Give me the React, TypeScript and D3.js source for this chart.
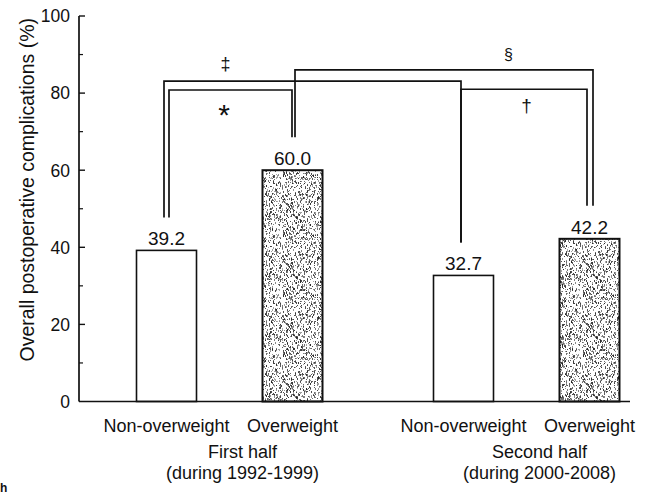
import React, { useMemo } from "react";
import * as d3 from "d3";

// ---- data ----
const groups = ["First half", "Second half"];
const groupPeriods = ["(during 1992-1999)", "(during 2000-2008)"];
const categories = ["Non-overweight", "Overweight"];
const firstHalfValues = [39.2, 60.0];
const secondHalfValues = [32.7, 42.2];
const yTickValues = [0, 20, 40, 60, 80, 100];
const yMinorTicks = [10, 30, 50, 70, 90];

// brackets: [group, category] endpoints, level (in %)
const bracketSymbols = ["*", "\u2021", "\u2020", "\u00a7"];
const bracketFrom = [[0, 0], [0, 0], [1, 0], [0, 1]];
const bracketTo = [[0, 1], [1, 0], [1, 1], [1, 1]];
const bracketLevels = [80.8, 83.1, 81.0, 86.0];
// symbol anchor: pair of bars whose midpoint the symbol sits over, and its level
const symbolAnchorFrom = [[0, 0], [0, 0], [1, 0], [1, 0]];
const symbolAnchorTo = [[0, 1], [0, 1], [1, 1], [1, 1]];
const symbolLevels = [71.7, 86.0, 75.1, 88.6];
const symbolDx = [-5.5, -4, 0, -18];
const symbolSizes = [30, 18, 19, 16];

const W = 653;
const H = 494;
const AX = 79; // y axis x
const AXR = 630; // x axis end
const Y0 = 401.5;
const Y100 = 16;

function lcg(seed: number) {
  let s = seed >>> 0;
  return () => {
    s = (s * 1664525 + 1013904223) >>> 0;
    return s / 4294967296;
  };
}

export default function App() {
  const y = d3.scaleLinear().domain([0, 100]).range([Y0, Y100]);
  const x0 = d3.scalePoint<string>().domain(groups).range([AX + 150.5, AX + 447.5]);
  const x1 = d3.scalePoint<string>().domain(categories).range([-63, 63]);
  const barW = 60;
  const values = [firstHalfValues, secondHalfValues];
  const cx = (g: number, c: number) => (x0(groups[g]) as number) + (x1(categories[c]) as number);
  const legBottom = (g: number, c: number) => y(values[g][c]) - 33;

  const dots = useMemo(() => {
    const r = lcg(987654);
    const arr: { x: number; y: number; w: number; h: number; o: number }[] = [];
    for (let i = 0; i < 950; i++) {
      arr.push({
        x: Math.floor(r() * 60),
        y: Math.floor(r() * 60),
        w: 1,
        h: r() < 0.45 ? 2 : 1,
        o: 0.35 + r() * 0.55,
      });
    }
    return arr;
  }, []);

  const font = "'Liberation Sans', Arial, Helvetica, sans-serif";

  return (
    <svg
      width={W}
      height={H}
      style={{ position: "absolute", left: 0, top: 0, background: "#fff" }}
      fontFamily={font}
    >
      <defs>
        <pattern id="stipple" width={60} height={60} patternUnits="userSpaceOnUse">
          <rect width={60} height={60} fill="#fff" />
          {dots.map((d, i) => (
            <rect key={i} x={d.x} y={d.y} width={d.w} height={d.h} fill="#222" opacity={d.o} />
          ))}
        </pattern>
      </defs>

      {/* bars */}
      {values.map((vals, g) =>
        vals.map((v, c) => {
          const xc = cx(g, c);
          return (
            <g key={`b${g}${c}`}>
              <rect
                x={xc - barW / 2}
                y={y(v)}
                width={barW}
                height={Y0 - y(v)}
                fill={c === 1 ? "url(#stipple)" : "#fff"}
                stroke="#111"
                strokeWidth={c === 1 ? 2 : 1.6}
              />
              <text x={xc} y={y(v) - 5} textAnchor="middle" fontSize={19} fill="#111">
                {v.toFixed(1)}
              </text>
            </g>
          );
        })
      )}

      {/* brackets */}
      {bracketSymbols.map((s, i) => {
        const [fg, fc] = bracketFrom[i];
        const [tg, tc] = bracketTo[i];
        const xa = cx(fg, fc) + (i === 0 || i === 3 ? 2.5 : -2.5);
        const xb = cx(tg, tc) + (i === 1 ? -2.5 : i === 2 ? -2.5 : i === 0 ? -0.5 : 3.5);
        const ly = y(bracketLevels[i]);
        return (
          <path
            key={`br${i}`}
            d={`M${xa},${legBottom(fg, fc)}V${ly}H${xb}V${legBottom(tg, tc)}`}
            fill="none"
            stroke="#111"
            strokeWidth={1.7}
          />
        );
      })}
      {bracketSymbols.map((s, i) => {
        const [ag, ac] = symbolAnchorFrom[i];
        const [bg, bc] = symbolAnchorTo[i];
        const sx = (cx(ag, ac) + cx(bg, bc)) / 2 + symbolDx[i];
        return (
          <text
            key={`sym${i}`}
            x={sx}
            y={y(symbolLevels[i])}
            textAnchor="middle"
            fontSize={symbolSizes[i]}
            fill="#111"
          >
            {s}
          </text>
        );
      })}

      {/* axes */}
      <line x1={AX} x2={AX} y1={y(100)} y2={Y0} stroke="#111" strokeWidth={1.7} />
      <line x1={AX} x2={AXR} y1={Y0} y2={Y0} stroke="#111" strokeWidth={1.7} />
      {yTickValues.map((t) => (
        <g key={`t${t}`}>
          {t > 0 && <line x1={AX} x2={AX + 6} y1={y(t)} y2={y(t)} stroke="#111" strokeWidth={1.4} />}
          <text x={AX - 9} y={y(t)} dy="0.36em" textAnchor="end" fontSize={17.5} fill="#111">
            {t}
          </text>
        </g>
      ))}
      {yMinorTicks.map((t) => (
        <line key={`m${t}`} x1={AX} x2={AX + 4} y1={y(t)} y2={y(t)} stroke="#111" strokeWidth={1.2} />
      ))}

      {/* y axis title */}
      <text
        transform={`translate(27,${(y(100) + Y0) / 2 - 19}) rotate(-90)`}
        textAnchor="middle"
        dy="0.36em"
        fontSize={19.5}
        fill="#111"
      >
        Overall postoperative complications (%)
      </text>

      {/* x labels */}
      {groups.map((gName, g) => (
        <g key={`g${g}`}>
          {categories.map((c, ci) => (
            <text key={c} x={cx(g, ci)} y={432} textAnchor="middle" fontSize={18} fill="#111">
              {c}
            </text>
          ))}
          <text x={(x0(gName) as number) + 13} y={458} textAnchor="middle" fontSize={18} fill="#111">
            {gName}
          </text>
          <text x={(x0(gName) as number) + 13} y={479} textAnchor="middle" fontSize={18} fill="#111">
            {groupPeriods[g]}
          </text>
        </g>
      ))}

      <text x={0} y={492} fontSize={12} fontWeight="bold" fill="#111">
        h
      </text>
    </svg>
  );
}
